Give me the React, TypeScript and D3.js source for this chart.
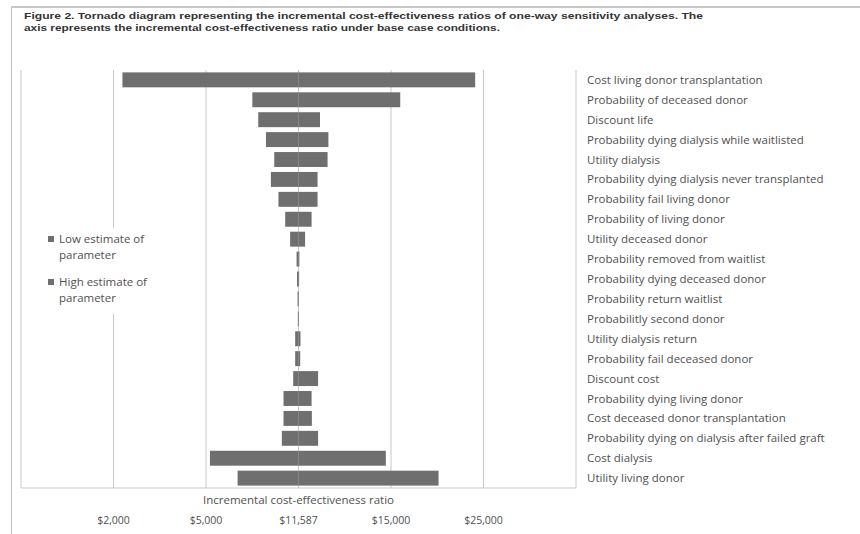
import React from 'react';
import * as d3 from 'd3';

const titleLines = [
  'Figure 2. Tornado diagram representing the incremental cost-effectiveness  ratios of one-way sensitivity  analyses. The',
  'axis represents the incremental cost-effectiveness  ratio under base case conditions.',
];
const titleWidths = [679, 476];

const baseCase = 11587;
const tickValues = [2000, 5000, 11587, 15000, 25000];
const tickLabels = ['$2,000', '$5,000', '$11,587', '$15,000', '$25,000'];

const parameters = [
  'Cost living donor transplantation',
  'Probability of deceased donor',
  'Discount life',
  'Probability dying dialysis while waitlisted',
  'Utility dialysis',
  'Probability dying dialysis never transplanted',
  'Probability fail living donor',
  'Probability of living donor',
  'Utility deceased donor',
  'Probability removed from waitlist',
  'Probability dying deceased donor',
  'Probability return waitlist',
  'Probabilitly second donor',
  'Utility dialysis return',
  'Probability fail deceased donor',
  'Discount cost',
  'Probability dying living donor',
  'Cost deceased donor transplantation',
  'Probability dying on dialysis after failed graft',
  'Cost dialysis',
  'Utility living donor',
];

// ICER at the low and high estimate of each parameter
const lowEstimate = [
  2290, 8300, 8720, 9270, 9860, 9620, 10160, 10640, 10990, 11450, 11480,
  11520, 11540, 11350, 11350, 11210, 10520, 10520, 10400, 5280, 7250,
];
const highEstimate = [
  24100, 16000, 12380, 12690, 12660, 12290, 12290, 12070, 11830, 11620, 11610,
  11600, 11600, 11660, 11650, 12310, 12070, 12080, 12310, 14810, 20140,
];

const legendItems = [
  ['Low estimate of', 'parameter'],
  ['High estimate of', 'parameter'],
];

const W = 860;
const H = 534;
const plot = { left: 21, right: 576, top: 70, bottom: 488 };
const barColor = '#6f6f6f';
const gridColor = '#c9c9c9';
const textColor = '#505050';
const font = '"Open Sans", "Noto Sans", sans-serif';
const titleFont = '"Liberation Sans", Arial, sans-serif';

export default function App() {
  const step = (plot.right - plot.left) / 6;
  // the axis labels are evenly spaced, so the scale is piecewise linear
  const x = d3
    .scaleLinear()
    .domain(tickValues)
    .range(tickValues.map((_, i) => plot.left + step * (i + 1)));

  const y = d3
    .scaleBand<string>()
    .domain(parameters)
    .range([plot.top, plot.bottom])
    .paddingInner(0.25)
    .paddingOuter(0.12);

  return (
    <svg
      width={W}
      height={H}
      style={{ position: 'absolute', left: 0, top: 0, background: '#fff' }}
    >
      {/* page frame */}
      <line x1={11} x2={W} y1={7} y2={7} stroke="#b5b5b5" strokeWidth={1.5} />
      <line x1={11.5} x2={11.5} y1={7} y2={H} stroke="#c4c4c4" strokeWidth={1.2} />

      {titleLines.map((t, i) => (
        <text
          key={i}
          x={24}
          y={19 + i * 12}
          fontFamily={titleFont}
          fontWeight="bold"
          fontSize={9.5}
          fill="#333"
          textLength={titleWidths[i]}
          lengthAdjust="spacingAndGlyphs"
        >
          {t}
        </text>
      ))}

      {/* grid lines */}
      {tickValues.map((v) => (
        <line
          key={v}
          x1={x(v)}
          x2={x(v)}
          y1={plot.top}
          y2={plot.bottom}
          stroke={gridColor}
          strokeWidth={1}
        />
      ))}
      <line x1={plot.left} x2={plot.left} y1={plot.top} y2={plot.bottom} stroke={gridColor} />
      <line x1={plot.right} x2={plot.right} y1={plot.top} y2={plot.bottom} stroke={gridColor} />
      <line x1={plot.left} x2={plot.right} y1={plot.bottom} y2={plot.bottom} stroke={gridColor} />

      {/* bars */}
      {parameters.map((p, i) => {
        const lo = Math.min(lowEstimate[i], highEstimate[i]);
        const hi = Math.max(lowEstimate[i], highEstimate[i]);
        return (
          <g key={p}>
            <rect
              x={x(Math.min(lo, baseCase))}
              y={y(p)}
              width={Math.abs(x(baseCase) - x(lo))}
              height={y.bandwidth()}
              fill={barColor}
            />
            <rect
              x={x(baseCase)}
              y={y(p)}
              width={Math.abs(x(hi) - x(baseCase))}
              height={y.bandwidth()}
              fill={barColor}
            />
            <text
              x={587}
              y={(y(p) ?? 0) + y.bandwidth() / 2}
              dy="0.35em"
              fontFamily={font}
              fontSize={11.5}
              fill={textColor}
            >
              {p}
            </text>
          </g>
        );
      })}

      {/* legend */}
      <rect x={38} y={228} width={130} height={86} fill="#fff" />
      {legendItems.map((lines, i) => (
        <g key={i} transform={`translate(48, ${243 + i * 43})`}>
          <rect x={0} y={-7} width={6} height={6} fill={barColor} />
          {lines.map((l, j) => (
            <text
              key={j}
              x={11}
              y={j * 16}
              fontFamily={font}
              fontSize={11.5}
              fill={textColor}
            >
              {l}
            </text>
          ))}
        </g>
      ))}

      {/* axis title and tick labels */}
      <text
        x={x(baseCase)}
        y={504}
        textAnchor="middle"
        fontFamily={font}
        fontSize={11.5}
        fill={textColor}
      >
        Incremental cost-effectiveness ratio
      </text>
      {tickValues.map((v, i) => (
        <text
          key={v}
          x={x(v)}
          y={524}
          textAnchor="middle"
          fontFamily={font}
          fontSize={10.5}
          fill={textColor}
        >
          {tickLabels[i]}
        </text>
      ))}
    </svg>
  );
}
